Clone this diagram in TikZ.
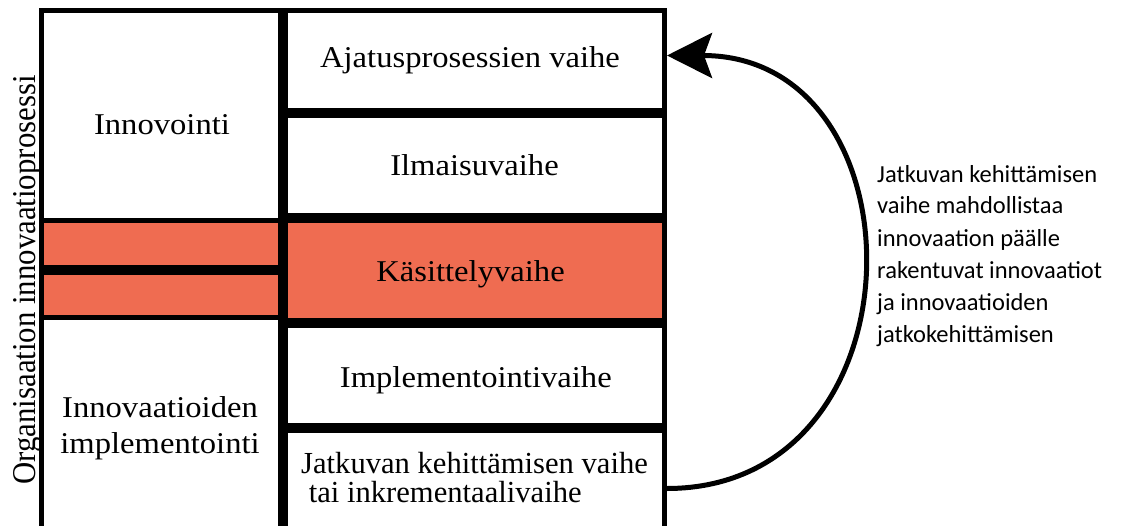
\documentclass[tikz,border=0pt]{standalone}
\usepackage{fontspec}
\usepackage{graphicx}
\setmainfont{Liberation Serif}
\newfontfamily\boxfont{Liberation Serif}[FakeStretch=1.08]
\newfontfamily\sidefont{Carlito}
\usetikzlibrary{arrows.meta,calc}
\definecolor{kasit}{RGB}{239,108,81}
\begin{document}
\begin{tikzpicture}[x=1pt,y=-1pt,
  cell/.style={draw=black, line width=5pt, rectangle, inner sep=0pt, outer sep=0pt, anchor=north west},
  rcell/.style={cell, minimum width=379pt, minimum height=100pt},
  lcell/.style={cell, minimum width=239pt},
  celltext/.style={font=\boxfont\fontsize{30.2}{30}\selectfont, inner sep=0pt, anchor=base},
  sidetext/.style={font=\sidefont\fontsize{24.5}{32}\selectfont, align=left, inner sep=0pt},
  loop/.style={line width=5pt, -{Stealth[length=45pt, width=45pt, inset=8pt]}}
]
\useasboundingbox (0,0) rectangle (1121,526);
\clip (0,0) rectangle (1121,526);
% left column
\node[lcell, minimum height=210pt] (inn) at (41.5,10.5) {};
\node[lcell, minimum height=47pt, fill=kasit] (or1) at (41.5,220.5) {};
\node[lcell, minimum height=45pt, fill=kasit] (or2) at (41.5,272.5) {};
\node[lcell, minimum height=240pt] (impl) at (41.5,317.5) {};
% right column
\node[rcell] (aja) at (285.5,10.5) {};
\node[rcell] (ilm) at (285.5,115.5) {};
\node[rcell, fill=kasit] (kas) at (285.5,220.5) {};
\node[rcell] (imp) at (285.5,325.5) {};
\node[rcell, minimum height=130pt] (jat) at (285.5,430.5) {};
% texts
\node[celltext] (t-inn) at (162,135) {Innovointi};
\node[celltext, align=center, font=\boxfont\fontsize{30.2}{36}\selectfont] (t-impl) at (160,453) {Innovaatioiden\\implementointi};
\node[celltext] (t-aja) at (470,68) {Ajatusprosessien vaihe};
\node[celltext] (t-ilm) at (474.5,176) {Ilmaisuvaihe};
\node[celltext] (t-kas) at (470.5,282) {Käsittelyvaihe};
\node[celltext] (t-imp) at (475.8,387) {Implementointivaihe};
\node[celltext, anchor=base west, align=left, font=\rmfamily\fontsize{30.6}{29}\selectfont] (t-jat) at (301,502) {Jatkuvan kehittämisen vaihe\\\ tai inkrementaalivaihe};
\node[rotate=90, anchor=base, inner sep=0pt, font=\fontsize{30.8}{30}\selectfont] (org) at (35,280) {\scalebox{1}[1.08]{Organisaation innovaatioprosessi}};
\node[sidetext, anchor=base west] (note) at (877,342) {Jatkuvan kehittämisen\\vaihe mahdollistaa\\innovaation päälle\\rakentuvat innovaatiot\\ja innovaatioiden\\jatkokehittämisen};
% loop arrow
\coordinate (arrS) at ($(jat.north east)+(2.5,58)$);
\coordinate (arrE) at ($(aja.east)+(2.5,-5)$);
\draw[loop] (arrS) .. controls +(260,0) and +(260,0) .. (arrE);
\end{tikzpicture}
\end{document}
